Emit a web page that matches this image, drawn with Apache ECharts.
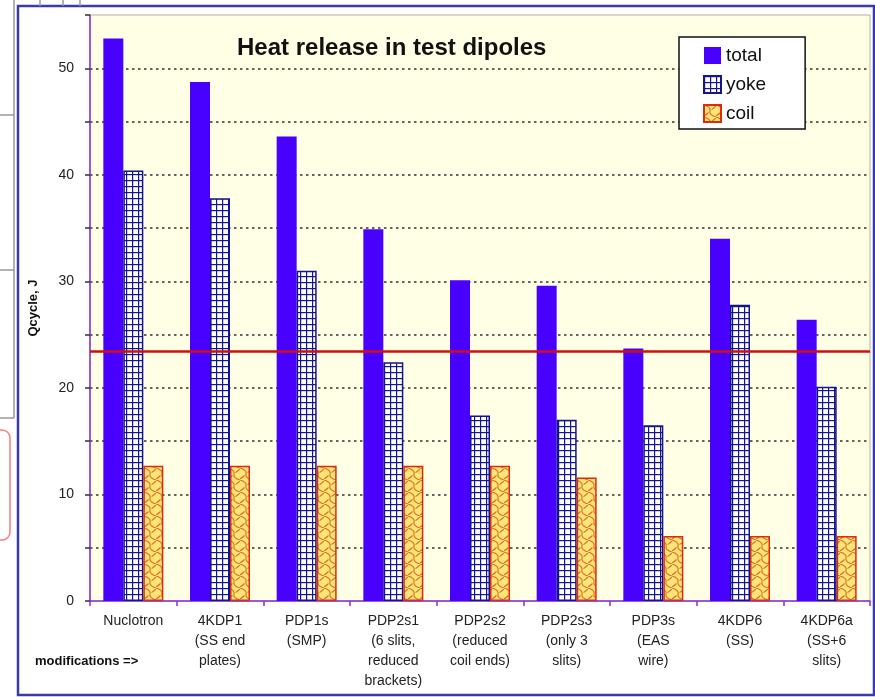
<!DOCTYPE html>
<html>
<head>
<meta charset="utf-8">
<script src="https://cdn.jsdelivr.net/npm/echarts@6/dist/echarts.min.js"></script>
<style>
html,body{margin:0;padding:0;background:#fff;}
#chart{width:875px;height:697px;}
</style>
</head>
<body>
<div id="chart"></div>
<script>
const categories = [
  "Nuclotron",
  "4KDP1\n(SS end\nplates)",
  "PDP1s\n(SMP)",
  "PDP2s1\n(6 slits,\nreduced\nbrackets)",
  "PDP2s2\n(reduced\ncoil ends)",
  "PDP2s3\n(only 3\nslits)",
  "PDP3s\n(EAS\nwire)",
  "4KDP6\n(SS)",
  "4KDP6a\n(SS+6\nslits)"
];
const totalValues = [52.8, 48.7, 43.6, 34.9, 30.1, 29.6, 23.7, 34.0, 26.4];
const yokeValues  = [40.4, 37.8, 31.0, 22.4, 17.4, 17.0, 16.5, 27.8, 20.1];
const coilValues  = [12.7, 12.7, 12.7, 12.7, 12.7, 11.6, 6.1, 6.1, 6.1];
const referenceLevel = 23.4;
const yTicks = [0, 10, 20, 30, 40, 50];

function yokePattern() {
  const c = document.createElement('canvas');
  c.width = 6; c.height = 6;
  const g = c.getContext('2d');
  g.fillStyle = '#ffffff'; g.fillRect(0, 0, 6, 6);
  g.fillStyle = '#14148c';
  g.fillRect(0, 0, 6, 1.2);
  g.fillRect(0, 0, 1.2, 6);
  return { image: c, repeat: 'repeat' };
}
function coilPattern() {
  const c = document.createElement('canvas');
  c.width = 12; c.height = 12;
  const g = c.getContext('2d');
  g.fillStyle = '#ffe47a'; g.fillRect(0, 0, 12, 12);
  g.strokeStyle = '#d8701c'; g.lineWidth = 1.1;
  g.beginPath();
  g.moveTo(0, 0); g.quadraticCurveTo(7, 2, 6, 6); g.quadraticCurveTo(5, 10, 12, 12);
  g.moveTo(12, 1); g.quadraticCurveTo(9, 4, 7.5, 4.5);
  g.moveTo(4.5, 7.5); g.quadraticCurveTo(3, 9, 0, 11);
  g.stroke();
  return { image: c, repeat: 'repeat' };
}

const FONT = '"Liberation Sans", Arial, sans-serif';
const chart = echarts.init(document.getElementById('chart'), null, { renderer: 'canvas' });

chart.setOption({
  animation: false,
  backgroundColor: '#ffffff',
  textStyle: { fontFamily: FONT },
  title: {
    text: 'Heat release in test dipoles',
    left: 232, top: 31,
    textStyle: { fontFamily: FONT, fontSize: 24, fontWeight: 'bold', color: '#111' }
  },
  legend: {
    orient: 'vertical',
    left: 679, top: 37,
    backgroundColor: '#ffffff',
    borderColor: '#111', borderWidth: 1.5,
    padding: [9, 39, 6, 24],
    itemWidth: 17, itemHeight: 17, itemGap: 10,
    icon: 'rect',
    textStyle: { fontFamily: FONT, fontSize: 19, lineHeight: 17, color: '#111' },
    data: ['total', 'yoke', 'coil']
  },
  grid: {
    left: 90, right: 5, top: 15, bottom: 96,
    show: true, backgroundColor: '#ffffe6', borderColor: '#b0b0a0', borderWidth: 1
  },
  xAxis: {
    type: 'category',
    data: categories,
    axisLine: { lineStyle: { color: '#8a2be2', width: 1.5 } },
    axisTick: { show: true, length: 5, lineStyle: { color: '#8a2be2', width: 1.5 } },
    axisLabel: {
      interval: 0, margin: 10, lineHeight: 20,
      fontFamily: FONT, fontSize: 14, color: '#222'
    }
  },
  yAxis: {
    type: 'value',
    min: 0, max: 55, interval: 5,
    name: 'Qcycle, J',
    nameLocation: 'middle', nameGap: 50, nameRotate: 90,
    nameTextStyle: { fontFamily: FONT, fontSize: 13, fontWeight: 'bold', color: '#111' },
    axisLine: { show: true, lineStyle: { color: '#8a2be2', width: 1.5 } },
    axisTick: { show: true, length: 5, lineStyle: { color: '#333', width: 1.5 } },
    axisLabel: {
      margin: 16, fontFamily: FONT, fontSize: 14, color: '#222',
      formatter: v => (yTicks.indexOf(v) >= 0 ? String(v) : '')
    },
    splitLine: {
      show: true, showMinLine: false, showMaxLine: false,
      lineStyle: { color: '#333', width: 1.5, type: [2.5, 3.5] }
    }
  },
  series: [
    {
      name: 'total', type: 'bar', data: totalValues,
      barWidth: 20, barGap: '0%',
      itemStyle: { color: '#4800ff' }
    },
    {
      name: 'yoke', type: 'bar', data: yokeValues,
      barWidth: 20, barGap: '0%',
      itemStyle: { color: yokePattern(), borderColor: '#14148c', borderWidth: 1.5 }
    },
    {
      name: 'coil', type: 'bar', data: coilValues,
      barWidth: 20, barGap: '0%',
      itemStyle: { color: coilPattern(), borderColor: '#e02a10', borderWidth: 1.5 },
      markLine: {
        silent: true, symbol: 'none', z: 10,
        label: { show: false },
        lineStyle: { color: '#cc1010', width: 2.5, type: 'solid' },
        data: [{ yAxis: referenceLevel }]
      }
    }
  ],
  graphic: [
    { type: 'rect', shape: { x: 18, y: 6, width: 856, height: 689 },
      style: { fill: 'none', stroke: '#3a3ab0', lineWidth: 2.5 }, z: 0 },
    { type: 'text', left: 35, top: 655,
      style: { text: 'modifications =>', fontFamily: FONT, fontSize: 13, fontWeight: 'bold', fill: '#111' } },
    { type: 'line', shape: { x1: 14, y1: 0, x2: 14, y2: 418 }, style: { stroke: '#999', lineWidth: 1.5 } },
    { type: 'line', shape: { x1: 0, y1: 115, x2: 14, y2: 115 }, style: { stroke: '#999', lineWidth: 1.5 } },
    { type: 'line', shape: { x1: 0, y1: 270, x2: 14, y2: 270 }, style: { stroke: '#999', lineWidth: 1.5 } },
    { type: 'line', shape: { x1: 0, y1: 418, x2: 14, y2: 418 }, style: { stroke: '#999', lineWidth: 1.5 } },
    { type: 'rect', shape: { x: -12, y: 430, width: 22, height: 110, r: 8 },
      style: { fill: 'none', stroke: '#ff7a7a', lineWidth: 1.5 } },
    { type: 'line', shape: { x1: 40, y1: 0, x2: 40, y2: 6 }, style: { stroke: '#999', lineWidth: 1.5 } },
    { type: 'line', shape: { x1: 63, y1: 0, x2: 63, y2: 6 }, style: { stroke: '#999', lineWidth: 1.5 } },
    { type: 'line', shape: { x1: 80, y1: 0, x2: 80, y2: 6 }, style: { stroke: '#999', lineWidth: 1.5 } }
  ]
});
</script>
</body>
</html>
